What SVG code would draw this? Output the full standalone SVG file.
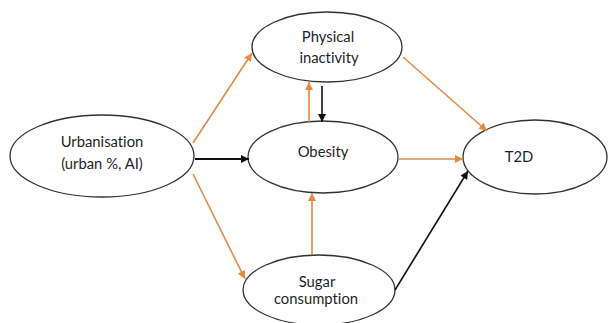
<svg xmlns="http://www.w3.org/2000/svg" width="612" height="323" viewBox="0 0 612 323">
  <style>
    .node ellipse { fill: #ffffff; stroke: #333333; stroke-width: 1.3; }
    .node text { font-family: Lato, "Open Sans", sans-serif; font-size: 14.8px; fill: #1f1f1f; text-anchor: middle; font-variant-ligatures: none; }
    .orange { stroke: #E58A43; stroke-width: 1.6; fill: none; marker-end: url(#ao); }
    .black { stroke: #111111; stroke-width: 1.6; fill: none; marker-end: url(#ab); }
  </style>
  <defs>
    <marker id="ao" viewBox="0 0 10 10" refX="10" refY="5" markerWidth="9" markerHeight="8" markerUnits="userSpaceOnUse" orient="auto">
      <path d="M0,0 L10,5 L0,10 Z" fill="#E58A43"/>
    </marker>
    <marker id="ab" viewBox="0 0 10 10" refX="10" refY="5" markerWidth="9" markerHeight="8" markerUnits="userSpaceOnUse" orient="auto">
      <path d="M0,0 L10,5 L0,10 Z" fill="#111111"/>
    </marker>
  </defs>
  <rect width="612" height="323" fill="#ffffff"/>
  <g id="nodes">
    <g id="urbanisation" class="node">
      <ellipse cx="102" cy="156" rx="92" ry="41"/>
      <text x="102" y="147">Urbanisation</text>
      <text x="102" y="169">(urban %, AI)</text>
    </g>
    <g id="physical-inactivity" class="node">
      <ellipse cx="327" cy="47" rx="75" ry="35"/>
      <text x="328" y="42">Physical</text>
      <text x="329" y="63">inactivity</text>
    </g>
    <g id="obesity" class="node">
      <ellipse cx="323" cy="157" rx="75" ry="36"/>
      <text x="323" y="157">Obesity</text>
    </g>
    <g id="t2d" class="node">
      <ellipse cx="535" cy="157" rx="72" ry="37"/>
      <text x="519" y="162">T2D</text>
    </g>
    <g id="sugar-consumption" class="node">
      <ellipse cx="319" cy="290" rx="76" ry="35"/>
      <text x="317" y="287">Sugar</text>
      <text x="316" y="304">consumption</text>
    </g>
  </g>
  <g id="connectors">
    <line class="orange" x1="193" y1="143" x2="252" y2="53"/>
    <line class="black" x1="195" y1="159" x2="249" y2="159" style="stroke-width:2"/>
    <line class="orange" x1="193" y1="174" x2="245" y2="279"/>
    <line class="orange" x1="309" y1="122" x2="309" y2="82"/>
    <line class="black" x1="322" y1="86" x2="322" y2="122"/>
    <line class="orange" x1="312" y1="255" x2="312" y2="193"/>
    <line class="orange" x1="399" y1="159" x2="463" y2="159"/>
    <line class="orange" x1="403" y1="57" x2="487" y2="131"/>
    <line class="black" x1="395" y1="290" x2="468" y2="171"/>
  </g>
</svg>
